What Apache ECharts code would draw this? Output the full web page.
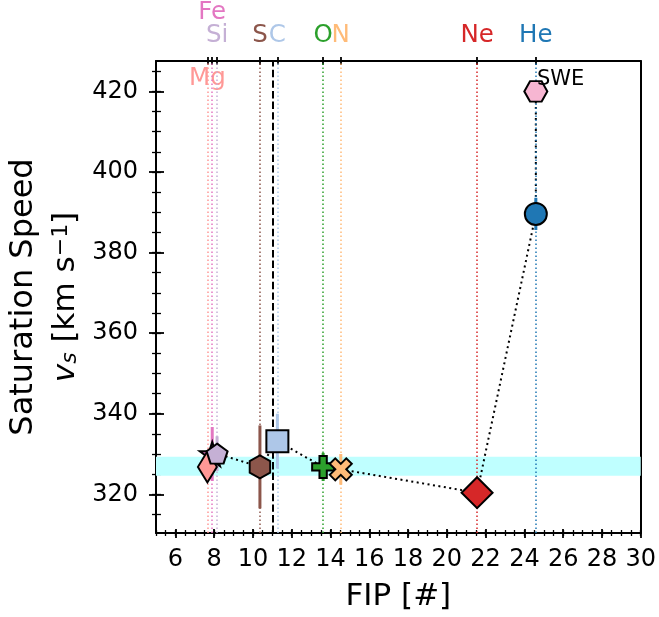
<!DOCTYPE html>
<html><head><meta charset="utf-8">
<script src="https://cdn.jsdelivr.net/npm/echarts@6/dist/echarts.min.js"></script>
<style>html,body{margin:0;padding:0;background:#fff}#c{width:659px;height:617px}</style>
</head><body><div id="c"></div>
<script>
// ---------------- data ----------------
const elements  = ['Mg', 'Fe', 'Si', 'S', 'C', 'O', 'N', 'Ne', 'He'];
const fip       = [7.65, 7.90, 8.15, 10.36, 11.26, 13.62, 14.53, 21.56, 24.59];
const satSpeed  = [326.8, 330.0, 330.1, 326.8, 333.2, 326.8, 326.2, 320.4, 389.6];
const satErr    = [3.0, 6.7, 4.3, 10.3, 6.8, 3.5, 3.8, 3.0, 4.0];
const sweName   = 'SWE';
const sweFip    = 24.59;
const sweSpeed  = 420.0;
const bandRange = [324.6, 329.3];
const dashedFip = 11.0;
const xRange    = [5, 30];
const yRange    = [310.4, 427.55];
const xTickLabels = [6, 8, 10, 12, 14, 16, 18, 20, 22, 24, 26, 28, 30];
const yTickLabels = [320, 340, 360, 380, 400, 420];
const topRowMid  = ['Si', 'S', 'C', 'O', 'N', 'Ne', 'He'];
const topRowHigh = ['Fe'];
const topRowLow  = ['Mg'];

// ---------------- styles ----------------
const FONT = "'DejaVu Sans', sans-serif";
const colorOf = {Mg:'#ff9896', Fe:'#e377c2', Si:'#c5b0d5', S:'#8c564b', C:'#aec7e8',
  O:'#2ca02c', N:'#ffbb78', Ne:'#d62728', He:'#1f77b4', SWE:'#f7b6d2'};

function poly(pts) {
  return 'path://' + pts.map((p, i) => (i ? 'L' : 'M') + (p[0] + 4).toFixed(4) + ',' + (p[1] + 4).toFixed(4)).join('') + 'Z';
}
function regular(n, startDeg) {
  const pts = [];
  for (let k = 0; k < n; k++) {
    const a = (startDeg + k * 360 / n) * Math.PI / 180;
    pts.push([Math.cos(a), Math.sin(a)]);
  }
  return poly(pts);
}
function starPath() {
  const pts = [];
  for (let k = 0; k < 10; k++) {
    const a = (-90 + k * 36) * Math.PI / 180;
    const r = k % 2 ? 0.381966 : 1;
    pts.push([r * Math.cos(a), r * Math.sin(a)]);
  }
  return poly(pts);
}
const plusPath = poly([[-1,-3],[1,-3],[1,-1],[3,-1],[3,1],[1,1],[1,3],[-1,3],[-1,1],[-3,1],[-3,-1],[-1,-1]].map(p => [p[0]/3, p[1]/3]));
const xPath = poly([[-1,-2],[0,-1],[1,-2],[2,-1],[1,0],[2,1],[1,2],[0,1],[-1,2],[-2,1],[-1,0],[-2,-1]].map(p => [p[0]/2, p[1]/2]));

const markerStyle = {
  Mg: {symbol: 'diamond', size: [19, 31]},
  Fe: {symbol: starPath(), size: [25, 24]},
  Si: {symbol: regular(5, -90), size: [21, 20]},
  S:  {symbol: regular(6, -90), size: [20.5, 23]},
  C:  {symbol: 'rect', size: [22, 22]},
  O:  {symbol: plusPath, size: [22, 22]},
  N:  {symbol: xPath, size: [22, 22]},
  Ne: {symbol: 'diamond', size: [31, 31]},
  He: {symbol: 'circle', size: [22, 22]},
  SWE:{symbol: regular(6, 0), size: [23, 20.5]}
};
const drawOrder = ['Fe', 'Mg', 'Si', 'S', 'C', 'O', 'N', 'Ne', 'He'];

const xMinor = [];
for (let v = xRange[0]; v <= xRange[1] + 1e-9; v += 0.5) xMinor.push(v);
const yMinor = [];
for (let v = 315; v <= yRange[1]; v += 5) yMinor.push(v);

function nameAt(v) {
  const i = fip.findIndex(f => Math.abs(f - v) < 1e-6);
  return i >= 0 ? elements[i] : '';
}
const richTop = {};
elements.forEach(e => { richTop[e] = {color: colorOf[e], fontSize: 24.5, fontFamily: FONT}; });
const valsOf = list => list.map(e => fip[elements.indexOf(e)]);

const blank = {axisLine: {show: false}, axisTick: {show: false}, axisLabel: {show: false}, splitLine: {show: false}};
function xa(extra) { return Object.assign({type: 'value', min: xRange[0], max: xRange[1]}, blank, extra); }
function ya(extra) { return Object.assign({type: 'value', min: yRange[0], max: yRange[1]}, blank, extra); }
const spine = {show: true, lineStyle: {color: '#000', width: 2}};

// ---------------- series data ----------------
const markerData = drawOrder.map(e => {
  const i = elements.indexOf(e);
  return {name: e, value: [fip[i], satSpeed[i]], symbol: markerStyle[e].symbol,
    symbolSize: markerStyle[e].size, itemStyle: {color: colorOf[e], borderColor: '#000', borderWidth: 2, opacity: 1}};
});
markerData.push({name: sweName, value: [sweFip, sweSpeed], symbol: markerStyle.SWE.symbol,
  symbolSize: markerStyle.SWE.size, itemStyle: {color: colorOf.SWE, borderColor: '#000', borderWidth: 2, opacity: 1},
  label: {show: true, formatter: sweName, position: 'right', distance: 0, offset: [-11.5, -11.5],
    fontSize: 21, color: '#000', opacity: 1, fontFamily: FONT}});

const lineData = elements.map((e, i) => [fip[i], satSpeed[i]]);
lineData.push([sweFip, sweSpeed]);

const errData = elements.map((e, i) => [fip[i], satSpeed[i] - satErr[i], satSpeed[i] + satErr[i], i]);

const vLines = elements.map((e, i) => ({xAxis: fip[i], lineStyle: {color: colorOf[e], type: [1.5, 2.5], width: 1.5}}));
vLines.push({xAxis: dashedFip, lineStyle: {color: '#000', type: [7.4, 3.2], width: 2}});

const option = {
  animation: false,
  backgroundColor: '#fff',
  grid: {left: 153, right: 18, top: 61, bottom: 81, containLabel: false},
  xAxis: [
    xa({position: 'bottom', axisLine: spine,
        axisLabel: {show: true, customValues: xTickLabels, margin: 15, fontSize: 24, color: '#000', fontFamily: FONT},
        name: 'FIP [#]', nameLocation: 'middle', nameGap: 48,
        nameTextStyle: {fontSize: 31, color: '#000', fontFamily: FONT}}),
    xa({position: 'bottom', offset: -4, axisTick: {show: true, customValues: xTickLabels, length: 9, lineStyle: {color: '#000', width: 1.8}}}),
    xa({position: 'bottom', offset: -3, axisTick: {show: true, customValues: xMinor, length: 6, lineStyle: {color: '#000', width: 1.3}}}),
    xa({position: 'top', axisLine: spine}),
    xa({position: 'top', offset: -4, axisTick: {show: true, customValues: fip, length: 8, lineStyle: {color: '#000', width: 1.8}}}),
    xa({position: 'top', axisLabel: {show: true, customValues: valsOf(topRowMid), margin: 12.5,
        formatter: v => '{' + nameAt(v) + '|' + nameAt(v) + '}', rich: richTop, fontSize: 24.5, fontFamily: FONT}}),
    xa({position: 'top', axisLabel: {show: true, customValues: valsOf(topRowHigh), margin: 36,
        formatter: v => '{' + nameAt(v) + '|' + nameAt(v) + '}', rich: richTop, fontSize: 24.5, fontFamily: FONT}}),
    xa({position: 'top', axisLabel: {show: true, inside: true, customValues: valsOf(topRowLow), margin: 5,
        formatter: v => '{' + nameAt(v) + '|' + nameAt(v) + '}', rich: richTop, fontSize: 24.5, fontFamily: FONT}})
  ],
  yAxis: [
    ya({position: 'left', axisLine: spine,
        axisLabel: {show: true, customValues: yTickLabels, margin: 18, fontSize: 24, color: '#000', fontFamily: FONT},
        name: '{v|v}{sub|s}{n| [km s}{sup|\u22121}{n|]}', nameLocation: 'middle', nameGap: 69, nameRotate: 90,
        nameTextStyle: {fontSize: 31, color: '#000', fontFamily: FONT,
          rich: {v: {fontSize: 31, fontStyle: 'italic', fontFamily: FONT, lineHeight: 31},
                 n: {fontSize: 31, fontFamily: FONT, lineHeight: 31},
                 sub: {fontSize: 22, fontStyle: 'italic', fontFamily: FONT, verticalAlign: 'bottom', lineHeight: 17.6},
                 sup: {fontSize: 22, fontFamily: FONT, verticalAlign: 'top', lineHeight: 21}}}}),
    ya({position: 'left', offset: -8, axisTick: {show: true, customValues: yTickLabels, length: 15, lineStyle: {color: '#000', width: 1.8}}}),
    ya({position: 'left', offset: -5, axisTick: {show: true, customValues: yMinor, length: 9, lineStyle: {color: '#000', width: 1.3}}}),
    ya({position: 'left', name: 'Saturation Speed', nameLocation: 'middle', nameGap: 116, nameRotate: 90,
        nameTextStyle: {fontSize: 32, color: '#000', fontFamily: FONT}}),
    ya({position: 'right', axisLine: spine})
  ],
  series: [
    {type: 'line', data: [], z: 1, silent: true,
     markArea: {silent: true, itemStyle: {color: '#bfffff', opacity: 1},
       data: [[{yAxis: bandRange[0]}, {yAxis: bandRange[1]}]]}},
    {type: 'line', data: [], z: 2, silent: true,
     markLine: {silent: true, symbol: ['none', 'none'], label: {show: false}, animation: false, data: vLines}},
    {type: 'line', data: lineData, z: 3, showSymbol: false, symbol: 'none', silent: true,
     lineStyle: {color: '#000', width: 2, type: [2, 3.5]}},
    {type: 'custom', data: errData, z: 4, silent: true, encode: {x: 0, y: [1, 2]},
     renderItem: function (params, api) {
       const p1 = api.coord([api.value(0), api.value(1)]);
       const p2 = api.coord([api.value(0), api.value(2)]);
       return {type: 'line', shape: {x1: p1[0], y1: p1[1], x2: p2[0], y2: p2[1]},
         style: {stroke: colorOf[elements[api.value(3)]], lineWidth: 3}};
     }},
    {type: 'scatter', data: markerData, z: 5, silent: true, itemStyle: {opacity: 1}}
  ]
};
const chart = echarts.init(document.getElementById('c'));
chart.setOption(option);
</script></body></html>
